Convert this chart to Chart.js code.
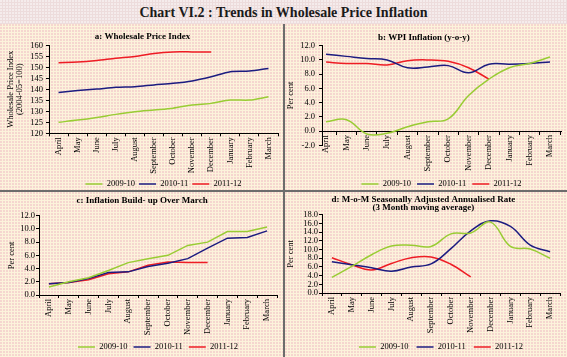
<!DOCTYPE html>
<html>
<head>
<meta charset="utf-8">
<script src="https://cdn.jsdelivr.net/npm/chart.js@4/dist/chart.umd.min.js"></script>
<style>
html,body{margin:0;padding:0;background:#fcf3dc;}
#wrap{position:relative;width:567px;height:357px;overflow:hidden;background-color:#fcf3db;
  background-image:radial-gradient(circle at 1px 1px, rgba(240,185,195,0.5) 0.7px, transparent 1.1px);
  background-size:3px 3px;}
#banner{position:absolute;left:0;top:0;width:567px;height:24px;background-color:#eddcdc;
  background-image:radial-gradient(circle at 1px 1px, rgba(255,255,255,0.45) 0.7px, transparent 1.1px);
  background-size:3px 3px;
  font-family:'Liberation Serif','Times New Roman',serif;font-weight:bold;font-size:14px;color:#1a1a1a;
  text-align:center;line-height:26px;}
.panel{position:absolute;}
.panel canvas{display:block;}
#hsep{position:absolute;left:0;top:190px;width:567px;height:2px;background:#6c6c6c;}
#vsep{position:absolute;left:283px;top:24px;width:2px;height:333px;background:#6c6c6c;}
</style>
</head>
<body>
<div id="wrap">
  <div id="banner">Chart VI.2 : Trends in Wholesale Price Inflation</div>
  <div class="panel" style="left:0;top:25px;"><canvas id="ca" width="283" height="165"></canvas></div>
  <div class="panel" style="left:285px;top:25px;"><canvas id="cb" width="282" height="165"></canvas></div>
  <div class="panel" style="left:0;top:193px;"><canvas id="cc" width="283" height="164"></canvas></div>
  <div class="panel" style="left:285px;top:193px;"><canvas id="cd" width="282" height="164"></canvas></div>
  <div id="hsep"></div>
  <div id="vsep"></div>
</div>
<script>
// ---------- data ----------
const months = ['April','May','June','July','August','September','October','November','December','January','February','March'];
const seriesNames = ['2009-10','2010-11','2011-12'];

// a: Wholesale Price Index (2004-05=100)
const wpi0910 = [125.0,126.0,127.2,128.6,129.8,130.6,131.4,132.9,133.6,135.1,135.1,136.6];
const wpi1011 = [138.6,139.4,140.1,140.9,141.2,142.0,142.7,143.8,145.7,148.0,148.3,149.5];
const wpi1112 = [152.1,152.4,153.1,154.1,154.9,156.3,157.0,157.0,156.9];
const ticksA = [120,125,130,135,140,145,150,155,160];

// b: WPI inflation (y-o-y)
const inf0910 = [1.3,1.6,-0.4,-0.3,0.6,1.3,1.7,5.0,7.3,8.9,9.5,10.4];
const inf1011 = [10.8,10.5,10.2,10.0,8.9,9.0,9.2,8.2,9.4,9.4,9.5,9.7];
const inf1112 = [9.7,9.5,9.5,9.3,9.9,10.0,9.8,8.9,7.3];
const ticksB = [-2,0,2,4,6,8,10,12];

// c: inflation build-up over March
const bu0910 = [1.2,2.0,2.6,3.7,4.9,5.5,6.0,7.5,8.0,9.6,9.6,10.3];
const bu1011 = [1.7,1.9,2.5,3.4,3.5,4.3,4.8,5.5,7.1,8.6,8.7,9.7];
const bu1112 = [1.7,1.9,2.3,3.2,3.5,4.5,5.0,4.9,4.9];
const ticksC = [0,2,4,6,8,10,12];

// d: m-o-m seasonally adjusted annualised rate (3 month moving average)
const saar0910 = [3.6,6.1,8.8,10.8,11.0,10.7,13.6,13.8,16.3,10.7,10.1,8.0];
const saar1011 = [7.2,6.5,5.8,5.0,6.0,6.7,10.2,14.3,16.6,15.3,11.0,9.5];
const saar1112 = [8.1,6.5,5.3,6.8,8.1,8.3,6.6,3.7];
const ticksD = [0,2,4,6,8,10,12,14,16,18];

// ---------- styling ----------
Chart.defaults.font.family = "'Liberation Serif','Times New Roman',serif";
Chart.defaults.font.size = 8.5;
Chart.defaults.color = '#000';
const COLORS = ['#99cc33', '#1c1c80', '#ee1c24'];
const FONT = {size: 8.5};

function datasets(arrs, tension, asXY) {
  return arrs.map((arr, k) => ({
    label: seriesNames[k],
    data: asXY ? arr.map((v, i) => ({x: i, y: v})) : arr,
    borderColor: COLORS[k],
    backgroundColor: COLORS[k],
    borderWidth: 1.5,
    pointRadius: 0,
    pointHoverRadius: 0,
    tension: tension,
    fill: false,
    xAxisID: 'x'
  }));
}

function yScale(ticks, width, pad, title, fmt) {
  return {
    type: 'linear', position: 'left',
    min: ticks[0], max: ticks[ticks.length - 1],
    afterBuildTicks: s => { s.ticks = ticks.map(v => ({value: v})); },
    afterFit: s => { s.width = width; },
    grid: {drawOnChartArea: false, drawTicks: true, tickLength: 3, color: '#000', lineWidth: 1},
    border: {display: true, color: '#000', width: 1},
    ticks: {autoSkip: false, padding: pad, color: '#000', font: FONT, callback: v => fmt(v)},
    title: {display: true, text: title, color: '#000', font: {size: 8.5, lineHeight: 1}, padding: 0}
  };
}

function xCategory(height) {
  return {
    type: 'category', position: 'bottom', offset: true,
    grid: {offset: true, drawOnChartArea: false, drawTicks: true, tickLength: 3, color: '#000', lineWidth: 1},
    border: {display: true, color: '#000', width: 1},
    ticks: {autoSkip: false, minRotation: 90, maxRotation: 90, padding: 1, color: '#000', font: FONT},
    afterFit: s => { s.height = height; }
  };
}

function options(o) {
  return {
    responsive: false, animation: false, devicePixelRatio: 1,
    events: [],
    layout: {padding: {left: o.padL, right: o.padR, top: 0, bottom: o.padB}},
    plugins: {
      title: {display: true, text: o.title, color: '#000',
        font: {size: 9, weight: 'bold', lineHeight: o.titleLH || 1.2},
        padding: {top: o.tTop, bottom: o.tBot}},
      legend: {display: true, position: 'bottom', fullSize: false,
        labels: {usePointStyle: true, pointStyle: 'line', pointStyleWidth: 17,
          padding: o.legPad, color: '#000', font: FONT}},
      tooltip: {enabled: false}
    },
    scales: o.scales
  };
}

// a
new Chart(document.getElementById('ca'), {
  type: 'line',
  data: {labels: months, datasets: datasets([wpi0910, wpi1011, wpi1112], 0.3, false)},
  options: options({
    padL: 7, padR: 5, padB: -8.25, title: 'a: Wholesale Price Index', tTop: 6.6, tBot: 2.9, legPad: 4,
    scales: {
      x: xCategory(42.45),
      y: yScale(ticksA, 42, 3, ['Wholesale Price Index', '(2004-05=100)'], v => String(v))
    }
  })
});

// b
new Chart(document.getElementById('cb'), {
  type: 'line',
  data: {datasets: datasets([inf0910, inf1011, inf1112], 0.4, true)},
  options: options({
    padL: 1.75, padR: 6, padB: -8.25, title: 'b: WPI Inflation (y-o-y)', tTop: 7.6, tBot: 2.3, legPad: 6,
    scales: {
      x: {
        type: 'linear', axis: 'x', position: {y: 0}, min: -0.2, max: 11.54,
        afterBuildTicks: s => { s.ticks = months.map((m, i) => ({value: i})); },
        grid: {offset: true, drawOnChartArea: false, drawTicks: true, tickLength: 3, color: '#000', lineWidth: 1},
        border: {display: true, color: '#000', width: 1},
        ticks: {autoSkip: false, minRotation: 90, maxRotation: 90, padding: 1, color: '#000', font: FONT,
          callback: v => months[v]}
      },
      xpad: {
        type: 'linear', axis: 'x', position: 'bottom', display: true,
        grid: {display: false}, border: {display: false}, ticks: {display: false},
        afterFit: s => { s.height = 28.45; }
      },
      y: yScale(ticksB, 35.25, 4, 'Per cent', v => v.toFixed(1))
    }
  })
});

// c
new Chart(document.getElementById('cc'), {
  type: 'line',
  data: {labels: months, datasets: datasets([bu0910, bu1011, bu1112], 0, false)},
  options: options({
    padL: 7.25, padR: 6, padB: -4.25, title: 'c: Inflation Build- up Over March', tTop: 2.3, tBot: 9.6, legPad: 6,
    scales: {
      x: xCategory(41.75),
      y: yScale(ticksC, 31.75, 1, 'Per cent', v => v.toFixed(1))
    }
  })
});

// d
new Chart(document.getElementById('cd'), {
  type: 'line',
  data: {labels: months, datasets: datasets([saar0910, saar1011, saar1112], 0.4, false)},
  options: options({
    padL: 1.75, padR: 7, padB: -4.25,
    title: ['d: M-o-M Seasonally Adjusted Annualised Rate', '(3 Month moving average)'],
    titleLH: 0.9, tTop: 2.5, tBot: 3, legPad: 8,
    scales: {
      x: xCategory(41.75),
      y: yScale(ticksD, 35.25, 1, 'Per cent', v => v.toFixed(1))
    }
  })
});
</script>
</body>
</html>
